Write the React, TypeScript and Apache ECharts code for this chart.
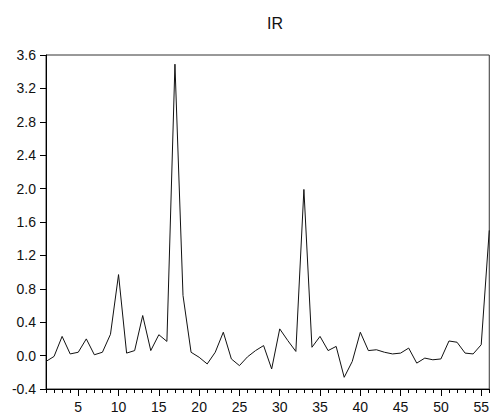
import React, { useEffect, useRef } from "react";
import * as echarts from "echarts";

const categories: string[] = Array.from({ length: 56 }, (_, i) => String(i + 1));
const irValues: number[] = [
  -0.07, -0.01, 0.23, 0.02, 0.04, 0.2, 0.01, 0.04, 0.255, 0.97,
  0.03, 0.06, 0.48, 0.06, 0.25, 0.17, 3.49, 0.72, 0.04, -0.02,
  -0.1, 0.04, 0.28, -0.04, -0.12, -0.015, 0.06, 0.12, -0.16, 0.32,
  0.18, 0.05, 1.99, 0.1, 0.23, 0.06, 0.11, -0.26, -0.07, 0.28,
  0.06, 0.07, 0.04, 0.02, 0.03, 0.09, -0.09, -0.03, -0.05, -0.04,
  0.175, 0.16, 0.03, 0.02, 0.13, 1.5,
];
const yMin = -0.4;
const yMax = 3.6;
const yStep = 0.4;
const title = "IR";

const FONT = "'Liberation Sans', Arial, Helvetica, sans-serif";

export default function App() {
  const ref = useRef<HTMLDivElement>(null);
  useEffect(() => {
    if (!ref.current) return;
    const chart = echarts.init(ref.current, null, { renderer: "svg" });
    const isMajor = (i: number) => (i + 1) % 5 === 0;
    chart.setOption({
      animation: false,
      backgroundColor: "#ffffff",
      title: {
        text: title,
        left: 270,
        top: 10,
        textAlign: "center",
        textStyle: { fontFamily: FONT, fontSize: 16, fontWeight: "normal", color: "#111" },
      },
      grid: {
        left: 46,
        right: -2,
        top: 55,
        bottom: 23,
        show: true,
        borderColor: "#333",
        borderWidth: 1,
        containLabel: false,
      },
      xAxis: [
        {
          type: "category",
          data: categories,
          boundaryGap: false,
          position: "bottom",
          axisLine: { show: true, onZero: false, lineStyle: { color: "#000", width: 1 } },
          axisTick: { show: true, interval: 0, length: 4, inside: false, lineStyle: { color: "#000" } },
          axisLabel: { show: false },
          splitLine: { show: false },
        },
        {
          type: "category",
          data: categories,
          boundaryGap: false,
          position: "bottom",
          axisLine: { show: false, onZero: false },
          axisTick: { show: true, interval: isMajor, length: 7, lineStyle: { color: "#000" } },
          axisLabel: {
            show: true,
            interval: isMajor,
            margin: 11,
            fontFamily: FONT,
            fontSize: 14,
            color: "#111",
          },
          splitLine: { show: false },
        },
      ],
      yAxis: {
        type: "value",
        min: yMin,
        max: yMax,
        interval: yStep,
        axisLine: { show: true, lineStyle: { color: "#000", width: 1 } },
        axisTick: { show: true, length: 6, lineStyle: { color: "#000" } },
        axisLabel: {
          margin: 10,
          fontFamily: FONT,
          fontSize: 14,
          color: "#111",
          formatter: (v: number) => (Math.abs(v) < 1e-9 ? "0.0" : v.toFixed(1)),
        },
        splitLine: { show: false },
      },
      series: [
        {
          type: "line",
          data: irValues,
          xAxisIndex: 0,
          symbol: "none",
          lineStyle: { color: "#111", width: 1 },
        },
      ],
    });
    return () => chart.dispose();
  }, []);
  return (
    <div
      ref={ref}
      style={{ position: "absolute", left: 0, top: 0, width: 492, height: 414 }}
    />
  );
}
